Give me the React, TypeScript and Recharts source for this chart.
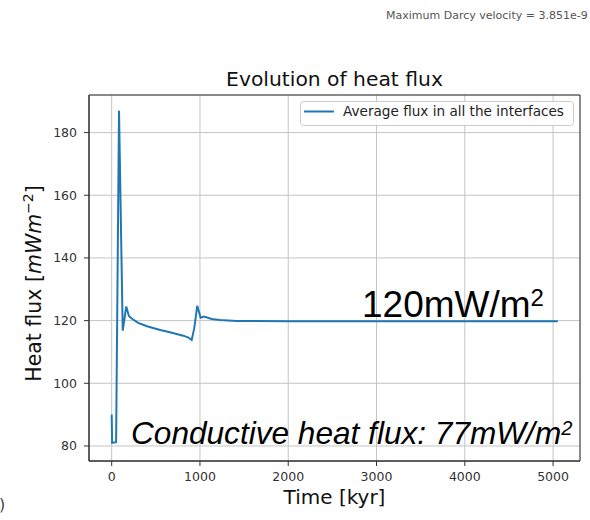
import React from 'react'
import {
  LineChart,
  Line,
  XAxis,
  YAxis,
  CartesianGrid,
  Legend,
  ReferenceArea
} from 'recharts'

// Time axis [kyr] and average heat flux [mW/m2]
const timeKyr = [
  0, 5, 50, 83, 125, 165, 195, 230, 300, 400, 550, 660, 810, 870, 906, 935,
  969, 1008, 1046, 1132, 1226, 1415, 2000, 3000, 4000, 5054
]
const heatFlux = [
  90, 81, 81.2, 187, 116.8, 124.5, 121.5, 120.6, 119.3, 118.2, 117, 116.3,
  115.2, 114.6, 113.8, 117.5, 124.7, 120.9, 121.3, 120.5, 120.2, 119.9,
  119.8, 119.8, 119.8, 119.8
]
const xTicks = [0, 1000, 2000, 3000, 4000, 5000]
const yTicks = [80, 100, 120, 140, 160, 180]
const xDomain = [-257, 5305]
const yDomain = [75.2, 192]
const seriesName = 'Average flux in all the interfaces'

const data = timeKyr.map((t, i) => ({ time: t, flux: heatFlux[i] }))

const tickStyle = { fill: '#333', fontSize: 12.5, fontFamily: 'DejaVu Sans' }

const FluxLegend = () => (
  <svg width={274} height={25} style={{ display: 'block' }}>
    <rect x={0.5} y={0.5} width={273} height={24} rx={3} fill="#fff" fillOpacity={0.85} stroke="#cccccc" />
    <line x1={4} x2={34} y1={10.5} y2={10.5} stroke="#1f77b4" strokeWidth={2} />
    <text x={43} y={14.5} fontSize={13.6} fontFamily="DejaVu Sans" fill="#222">
      {seriesName}
    </text>
  </svg>
)

const App: React.FC = () => {
  return (
    <div style={{ position: 'absolute', left: 0, top: 0, width: 590, height: 520, background: '#fff' }}>
      <LineChart
        width={590}
        height={520}
        data={data}
        margin={{ top: 95, right: 10, bottom: 29, left: 29 }}
        style={{ fontFamily: 'DejaVu Sans' }}
      >
        <CartesianGrid stroke="#c4c4c4" strokeWidth={1} />
        <XAxis
          dataKey="time"
          type="number"
          domain={xDomain}
          allowDataOverflow
          ticks={xTicks}
          interval={0}
          height={30}
          tick={tickStyle}
          tickSize={5}
          tickMargin={6}
          tickLine={{ stroke: '#333' }}
          axisLine={{ stroke: '#333' }}
        />
        <YAxis
          type="number"
          domain={yDomain}
          allowDataOverflow
          ticks={yTicks}
          interval={0}
          width={60}
          tick={tickStyle}
          tickSize={5}
          tickMargin={7}
          tickLine={{ stroke: '#333' }}
          axisLine={{ stroke: '#333' }}
        />
        <ReferenceArea
          x1={xDomain[0]}
          x2={xDomain[1]}
          y1={yDomain[0]}
          y2={yDomain[1]}
          fill="none"
          stroke="#333"
          strokeWidth={1}
          ifOverflow="visible"
        />
        <Legend
          layout="horizontal"
          verticalAlign="middle"
          align="center"
          content={() => <FluxLegend />}
          wrapperStyle={{ top: 101, left: 300, width: 274, height: 25, lineHeight: 0 }}
        />
        <Line
          type="linear"
          dataKey="flux"
          name={seriesName}
          stroke="#1f77b4"
          strokeWidth={2}
          dot={false}
          isAnimationActive={false}
        />
      </LineChart>

      {/* titles and annotations */}
      <svg
        width={590}
        height={520}
        style={{ position: 'absolute', left: 0, top: 0, pointerEvents: 'none' }}
      >
        <text x={386} y={19} fontSize={11} fontFamily="DejaVu Sans" fill="#555">
          Maximum Darcy velocity = 3.851e-9
        </text>
        <text x={334.5} y={86} textAnchor="middle" fontSize={20.3} fontFamily="DejaVu Sans" fill="#111">
          Evolution of heat flux
        </text>
        <text x={334.5} y={504} textAnchor="middle" fontSize={20} fontFamily="DejaVu Sans" fill="#111">
          Time [kyr]
        </text>
        <text
          x={41}
          y={283.5}
          transform="rotate(-90, 41, 283.5)"
          textAnchor="middle"
          fontSize={20.5}
          fontFamily="DejaVu Sans"
          fill="#111"
        >
          <tspan>Heat flux [</tspan>
          <tspan fontStyle="italic">mWm</tspan>
          <tspan fontSize={14} dy={-8}>−2</tspan>
          <tspan dy={8}>]</tspan>
        </text>
        <text x={362} y={317} fontSize={37} fontFamily="Liberation Sans, Arial" fill="#000">
          120mW/m<tspan fontSize={24} dy={-11}>2</tspan>
        </text>
        <text x={131} y={444} fontSize={31.6} fontStyle="italic" fontFamily="Liberation Sans, Arial" fill="#000">
          Conductive heat flux: 77mW/m<tspan fontSize={20} dy={-9}>2</tspan>
        </text>
        <text x={-1} y={510} fontSize={16} fontFamily="DejaVu Sans" fill="#444">)</text>
      </svg>
    </div>
  )
}

export default App
